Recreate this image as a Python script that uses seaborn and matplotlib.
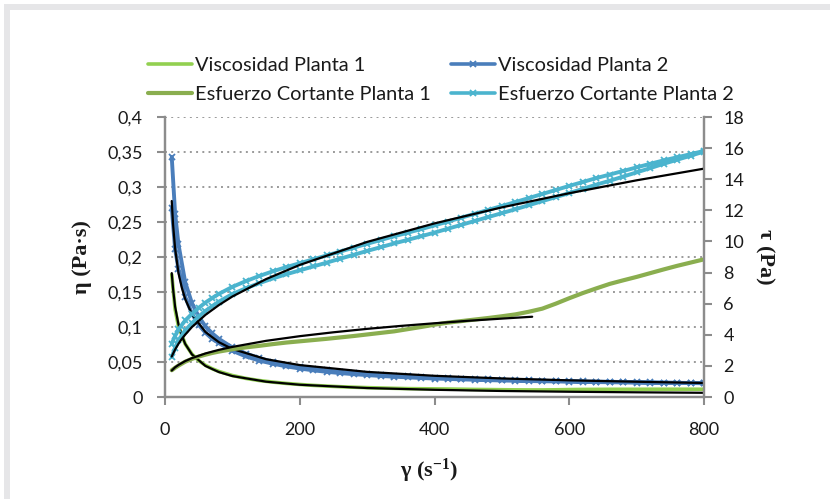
import matplotlib
matplotlib.use("Agg")
import matplotlib.pyplot as plt
from matplotlib.lines import Line2D
import pandas as pd
import seaborn as sns

# Shear rate grid (s^-1) used by the measured curves
shear_rate = [10, 15, 20, 30, 40, 50, 60, 70, 80, 100, 120, 140, 160, 180, 200,
              220, 240, 260, 280, 300, 320, 340, 360, 380, 400, 420, 440, 460,
              480, 500, 520, 540, 560, 580, 600, 620, 640, 660, 680, 700, 720,
              740, 760, 780, 800]

# Plant 1: viscosity (Pa·s) and shear stress (Pa)
visc_p1 = [0.175, 0.125, 0.101, 0.0757, 0.0613, 0.052, 0.0453, 0.0404, 0.0365,
           0.0307, 0.0266, 0.0235, 0.0213, 0.0194, 0.0179, 0.0166, 0.0156,
           0.0147, 0.014, 0.0134, 0.0129, 0.0124, 0.012, 0.0118, 0.0116,
           0.0114, 0.0111, 0.0108, 0.0106, 0.0104, 0.0102, 0.0101, 0.0101,
           0.0103, 0.0106, 0.0108, 0.0109, 0.011, 0.011, 0.011, 0.0111,
           0.0111, 0.0111, 0.0111, 0.0111]
stress_p1 = [1.72, 1.88, 2.02, 2.27, 2.45, 2.6, 2.72, 2.83, 2.92, 3.07, 3.19,
             3.29, 3.4, 3.5, 3.58, 3.66, 3.74, 3.83, 3.92, 4.02, 4.12, 4.22,
             4.36, 4.5, 4.65, 4.78, 4.88, 4.98, 5.08, 5.19, 5.31, 5.48, 5.68,
             6.0, 6.35, 6.68, 6.98, 7.27, 7.5, 7.72, 7.96, 8.2, 8.43, 8.64, 8.85]

# Plant 2: ascending and descending sweeps
visc_p2_up = [0.27, 0.211, 0.183, 0.143, 0.119, 0.103, 0.092, 0.083, 0.077,
              0.066, 0.058, 0.052, 0.0476, 0.0438, 0.0407, 0.0381, 0.036,
              0.0342, 0.0326, 0.0313, 0.0301, 0.029, 0.0281, 0.0272, 0.0264,
              0.0258, 0.0252, 0.0246, 0.0241, 0.0236, 0.0232, 0.0228, 0.0225,
              0.0222, 0.0219, 0.0216, 0.0213, 0.0211, 0.0208, 0.0206, 0.0204,
              0.0203, 0.0201, 0.0199, 0.0197]
visc_p2_down = [0.343, 0.262, 0.218, 0.164, 0.134, 0.115, 0.101, 0.091, 0.083,
                0.0708, 0.0621, 0.0556, 0.0505, 0.0464, 0.043, 0.0402, 0.0379,
                0.036, 0.0343, 0.0328, 0.0315, 0.0304, 0.0293, 0.0284, 0.0276,
                0.0269, 0.0262, 0.0256, 0.0251, 0.0246, 0.0241, 0.0237, 0.0233,
                0.0229, 0.0226, 0.0223, 0.022, 0.0217, 0.0214, 0.0211, 0.0208,
                0.0206, 0.0203, 0.02, 0.0198]
stress_p2_up = [2.57, 3.17, 3.65, 4.28, 4.75, 5.17, 5.53, 5.84, 6.13, 6.62,
                6.99, 7.32, 7.62, 7.89, 8.14, 8.39, 8.64, 8.89, 9.14, 9.39,
                9.63, 9.87, 10.1, 10.33, 10.57, 10.82, 11.07, 11.32, 11.57,
                11.82, 12.07, 12.33, 12.59, 12.85, 13.11, 13.38, 13.65, 13.9,
                14.17, 14.44, 14.71, 14.99, 15.25, 15.51, 15.78]
stress_p2_down = [3.43, 3.93, 4.35, 4.92, 5.35, 5.73, 6.07, 6.36, 6.63, 7.08,
                  7.45, 7.78, 8.08, 8.35, 8.6, 8.85, 9.1, 9.35, 9.6, 9.85,
                  10.09, 10.33, 10.56, 10.79, 11.03, 11.28, 11.53, 11.78,
                  12.03, 12.28, 12.53, 12.79, 13.05, 13.31, 13.57, 13.82,
                  14.07, 14.3, 14.53, 14.76, 14.99, 15.21, 15.41, 15.61, 15.82]

# Power-law trend lines
fit_rate = [10, 12, 15, 20, 25, 30, 40, 60, 80, 100, 150, 200, 300, 400, 500,
            600, 700, 800]
fit_visc_p1 = [0.177, 0.154, 0.129, 0.1037, 0.0876, 0.0758, 0.0608, 0.0444,
               0.0356, 0.0299, 0.0219, 0.0175, 0.0128, 0.0103, 0.0086, 0.0075,
               0.0067, 0.006]
fit_visc_p2 = [0.28, 0.246, 0.212, 0.177, 0.156, 0.14, 0.118, 0.0928, 0.0783,
               0.0686, 0.054, 0.0456, 0.0359, 0.0303, 0.0265, 0.0238, 0.0218,
               0.02]
fit_stress_p2 = [2.6, 2.79, 3.05, 3.42, 3.74, 4.01, 4.5, 5.28, 5.91, 6.46, 7.58,
                 8.49, 9.97, 11.16, 12.19, 13.1, 13.93, 14.68]
fit_rate_p1 = [10, 15, 20, 30, 40, 60, 80, 100, 150, 200, 250, 300, 350, 400,
               450, 500, 545]
fit_stress_p1 = [1.7, 1.91, 2.06, 2.31, 2.5, 2.8, 3.03, 3.22, 3.61, 3.91, 4.16,
                 4.38, 4.57, 4.74, 4.9, 5.04, 5.16]

x_ticks = [0, 200, 400, 600, 800]
left_ticks = [0, 0.05, 0.1, 0.15, 0.2, 0.25, 0.3, 0.35, 0.4]
left_labels = ["0", "0,05", "0,1", "0,15", "0,2", "0,25", "0,3", "0,35", "0,4"]
right_ticks = [0, 2, 4, 6, 8, 10, 12, 14, 16, 18]

series_names = ["Viscosidad Planta 1", "Viscosidad Planta 2",
                "Esfuerzo Cortante Planta 1", "Esfuerzo Cortante Planta 2"]

C_VISC1 = "#92D050"
C_VISC2 = "#4A7EBB"
C_STRESS1 = "#8AAE4F"
C_STRESS2 = "#4BB4CE"
C_AXIS = "#8C8C8C"
C_TEXT = "#1A1A1A"
C_FRAME = "#E6E6E8"

sns.set_style("white")
plt.rcParams["font.family"] = ["Lato", "DejaVu Sans"]
plt.rcParams["mathtext.fontset"] = "custom"
plt.rcParams["mathtext.rm"] = "Liberation Serif:bold"
plt.rcParams["mathtext.it"] = "Liberation Serif:bold"
plt.rcParams["mathtext.bf"] = "Liberation Serif:bold"

W, H = 830, 499
fig = plt.figure(figsize=(W / 100, H / 100), dpi=100)

# light frame along the top and left edges of the chart area
fig.add_artist(Line2D([7 / W, 1.0], [1 - 7 / H, 1 - 7 / H],
                      transform=fig.transFigure, color=C_FRAME, lw=4.3,
                      solid_capstyle="butt"))
fig.add_artist(Line2D([7 / W, 7 / W], [0.0, 1 - 7 / H + 3 / H],
                      transform=fig.transFigure, color=C_FRAME, lw=4.3,
                      solid_capstyle="butt"))

ax = fig.add_axes([165 / W, 102 / H, 539 / W, 280 / H])
ax2 = ax.twinx()


def single(rate, values):
    return pd.DataFrame({"rate": rate, "value": values})


def sweep(rate, up, down):
    return pd.DataFrame({"rate": list(rate) + list(rate)[::-1],
                         "value": list(up) + list(down)[::-1]})


line_kw = dict(sort=False, estimator=None, legend=False)
mark_kw = dict(marker="x", markersize=5, markeredgewidth=1.3)

# Viscosity on the left axis
sns.lineplot(data=single(shear_rate, visc_p1), x="rate", y="value", ax=ax,
             color=C_VISC1, lw=2.6, **line_kw)
sns.lineplot(data=sweep(shear_rate, visc_p2_up, visc_p2_down), x="rate",
             y="value", ax=ax, color=C_VISC2, lw=2.8,
             markeredgecolor=C_VISC2, **mark_kw, **line_kw)
sns.lineplot(data=single(fit_rate, fit_visc_p1), x="rate", y="value", ax=ax,
             color="black", lw=1.6, **line_kw)
sns.lineplot(data=single(fit_rate, fit_visc_p2), x="rate", y="value", ax=ax,
             color="black", lw=1.6, **line_kw)

# Shear stress on the right axis
sns.lineplot(data=single(shear_rate, stress_p1), x="rate", y="value", ax=ax2,
             color=C_STRESS1, lw=3.0, **line_kw)
sns.lineplot(data=sweep(shear_rate, stress_p2_up, stress_p2_down), x="rate",
             y="value", ax=ax2, color=C_STRESS2, lw=2.8,
             markeredgecolor=C_STRESS2, **mark_kw, **line_kw)
sns.lineplot(data=single(fit_rate_p1, fit_stress_p1), x="rate", y="value",
             ax=ax2, color="black", lw=1.6, **line_kw)
sns.lineplot(data=single(fit_rate, fit_stress_p2), x="rate", y="value",
             ax=ax2, color="black", lw=1.6, **line_kw)

ax.set_xlim(0, 800)
ax.set_ylim(0, 0.4)
ax2.set_ylim(0, 18)
ax.set_xticks(x_ticks)
ax.set_xticklabels([str(t) for t in x_ticks])
ax.set_yticks(left_ticks)
ax.set_yticklabels(left_labels)
ax2.set_yticks(right_ticks)
ax2.set_yticklabels([str(t) for t in right_ticks])

ax.yaxis.grid(True, linestyle=(0, (1, 2.2)), color="#9A9A9A", lw=1.4)
ax.xaxis.grid(False)
ax2.grid(False)

for a in (ax, ax2):
    for side in ("left", "right", "bottom"):
        a.spines[side].set_color(C_AXIS)
        a.spines[side].set_linewidth(1.6)
    a.spines["top"].set_visible(False)

ax.tick_params(axis="both", which="major", direction="out", length=6,
               width=1.5, color=C_AXIS, labelsize=13, labelcolor=C_TEXT)
ax.tick_params(axis="y", pad=10, left=True)
ax.tick_params(axis="x", pad=12, bottom=True)
ax2.tick_params(axis="y", direction="out", length=6, width=1.5,
                color=C_AXIS, labelsize=13, labelcolor=C_TEXT, pad=8,
                right=True)

label_font = dict(family="Liberation Serif", fontweight="bold", fontsize=16,
                  color=C_TEXT)
ax.set_xlabel(r"γ (s$^{-1}$)", **label_font)
ax.set_ylabel("η (Pa·s)", **label_font)
ax2.set_ylabel("τ (Pa)", rotation=-90, **label_font)
ax.xaxis.set_label_coords(0.49, -0.215)
ax.yaxis.set_label_coords(-0.135, 0.5)
ax2.yaxis.set_label_coords(1.13, 0.5)

handles = [
    Line2D([], [], color=C_VISC1, lw=2.6),
    Line2D([], [], color=C_STRESS1, lw=3.0),
    Line2D([], [], color=C_VISC2, lw=2.6, marker="x", markersize=5,
           markeredgewidth=1.3),
    Line2D([], [], color=C_STRESS2, lw=2.6, marker="x", markersize=5,
           markeredgewidth=1.3),
]
labels = [series_names[0], series_names[2], series_names[1], series_names[3]]
fig.legend(handles, labels, ncol=2, loc="upper left",
           bbox_to_anchor=(148 / W, 1 - 57 / H), frameon=False,
           fontsize=14.4, handlelength=2.2, handletextpad=0.15,
           columnspacing=1.0, labelspacing=0.6, borderpad=0,
           borderaxespad=0, labelcolor=C_TEXT)

fig.savefig("out.png", dpi=100)
